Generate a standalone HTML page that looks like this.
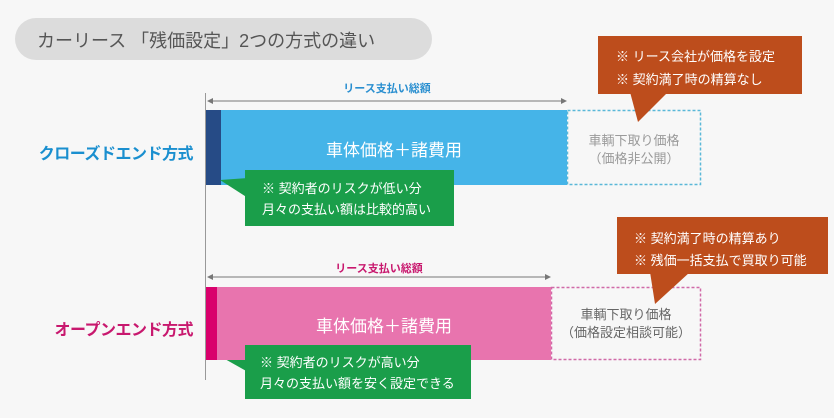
<!DOCTYPE html>
<html><head><meta charset="utf-8"><style>
body{margin:0;width:834px;height:418px;background:#f7f7f7;position:relative;overflow:hidden;font-family:"Liberation Sans","Noto Sans CJK JP",sans-serif}
div,span{position:absolute;box-sizing:border-box}
.c{text-align:center;white-space:nowrap}
</style></head><body>
<div style="left:15px;top:18px;width:417px;height:42px;border-radius:21px;background:#dcdcdc"></div>
<div style="left:37px;top:27px;font-size:18px;color:#555;white-space:nowrap">カーリース 「残価設定」2つの方式の違い</div>

<div style="left:205px;top:93px;width:1px;height:287px;background:#999"></div>

<div class="c" style="left:207px;top:80px;width:360px;font-size:11px;color:#2a8fd0;font-weight:bold">リース支払い総額</div>
<svg style="position:absolute;left:0;top:0" width="834" height="418">
<line x1="208" y1="101" x2="566" y2="101" stroke="#777" stroke-width="1"/>
<polygon points="207,101 213,98 213,104" fill="#777"/><polygon points="567,101 561,98 561,104" fill="#777"/>
<line x1="208" y1="277" x2="550" y2="277" stroke="#777" stroke-width="1"/>
<polygon points="207,277 213,274 213,280" fill="#777"/><polygon points="551,277 545,274 545,280" fill="#777"/>
<rect x="567.5" y="110.5" width="133" height="74" fill="none" stroke="#5ab8d8" stroke-width="1.5" stroke-dasharray="3,2"/>
<rect x="551.5" y="287.5" width="149" height="72" fill="none" stroke="#d06aa8" stroke-width="1.5" stroke-dasharray="3,2"/>
</svg>
<div style="left:206px;top:110px;width:15px;height:75px;background:#264b86"></div>
<div style="left:221px;top:110px;width:346px;height:75px;background:#45b4e8"></div>
<div class="c" style="left:221px;top:136px;width:346px;font-size:17px;color:#fff">車体価格＋諸費用</div>
<div class="c" style="left:567px;top:132px;width:134px;font-size:13px;color:#9a9a9a;line-height:18px">車輌下取り価格<br>（価格非公開）</div>
<div style="left:0px;top:140px;width:193px;text-align:right;font-size:16px;color:#1a8fcf;font-weight:bold;white-space:nowrap;letter-spacing:-0.5px">クローズドエンド方式</div>
<svg style="position:absolute;left:0;top:0" width="834" height="418">
<polygon points="220,180 248,178 248,198" fill="#1a9e4a"/>
<polygon points="216,354 248,352 248,372" fill="#1a9e4a"/>
<polygon points="630,92 668,92 638,122" fill="#bd4d1c"/>
<polygon points="650,272 690,272 655,304" fill="#bd4d1c"/>
</svg>
<div style="left:245px;top:170px;width:209px;height:56px;background:#1a9e4a"></div>
<div style="left:262px;top:178px;font-size:13px;color:#fff;line-height:21px;white-space:nowrap">※ 契約者のリスクが低い分<br>月々の支払い額は比較的高い</div>
<div style="left:598px;top:36px;width:204px;height:58px;background:#bd4d1c"></div>
<div style="left:616px;top:45px;font-size:13px;color:#fff;line-height:23px;white-space:nowrap">※ リース会社が価格を設定<br>※ 契約満了時の精算なし</div>

<div class="c" style="left:207px;top:260px;width:344px;font-size:11px;color:#c8186e;font-weight:bold">リース支払い総額</div>
<div style="left:206px;top:287px;width:11px;height:73px;background:#d9006c"></div>
<div style="left:217px;top:287px;width:334px;height:73px;background:#e874ae"></div>
<div class="c" style="left:217px;top:312px;width:334px;font-size:17px;color:#fff">車体価格＋諸費用</div>
<div class="c" style="left:551px;top:306px;width:150px;font-size:13px;color:#666;line-height:18px">車輌下取り価格<br>（価格設定相談可能）</div>
<div style="left:0px;top:316px;width:193px;text-align:right;font-size:16px;color:#c8186e;font-weight:bold;white-space:nowrap;letter-spacing:-0.5px">オープンエンド方式</div>
<div style="left:245px;top:345px;width:226px;height:54px;background:#1a9e4a"></div>
<div style="left:260px;top:352px;font-size:13px;color:#fff;line-height:21px;white-space:nowrap">※ 契約者のリスクが高い分<br>月々の支払い額を安く設定できる</div>
<div style="left:617px;top:217px;width:211px;height:57px;background:#bd4d1c"></div>
<div style="left:634px;top:228px;font-size:13px;color:#fff;line-height:22px;white-space:nowrap">※ 契約満了時の精算あり<br>※ 残価一括支払で買取り可能</div>
</body></html>
